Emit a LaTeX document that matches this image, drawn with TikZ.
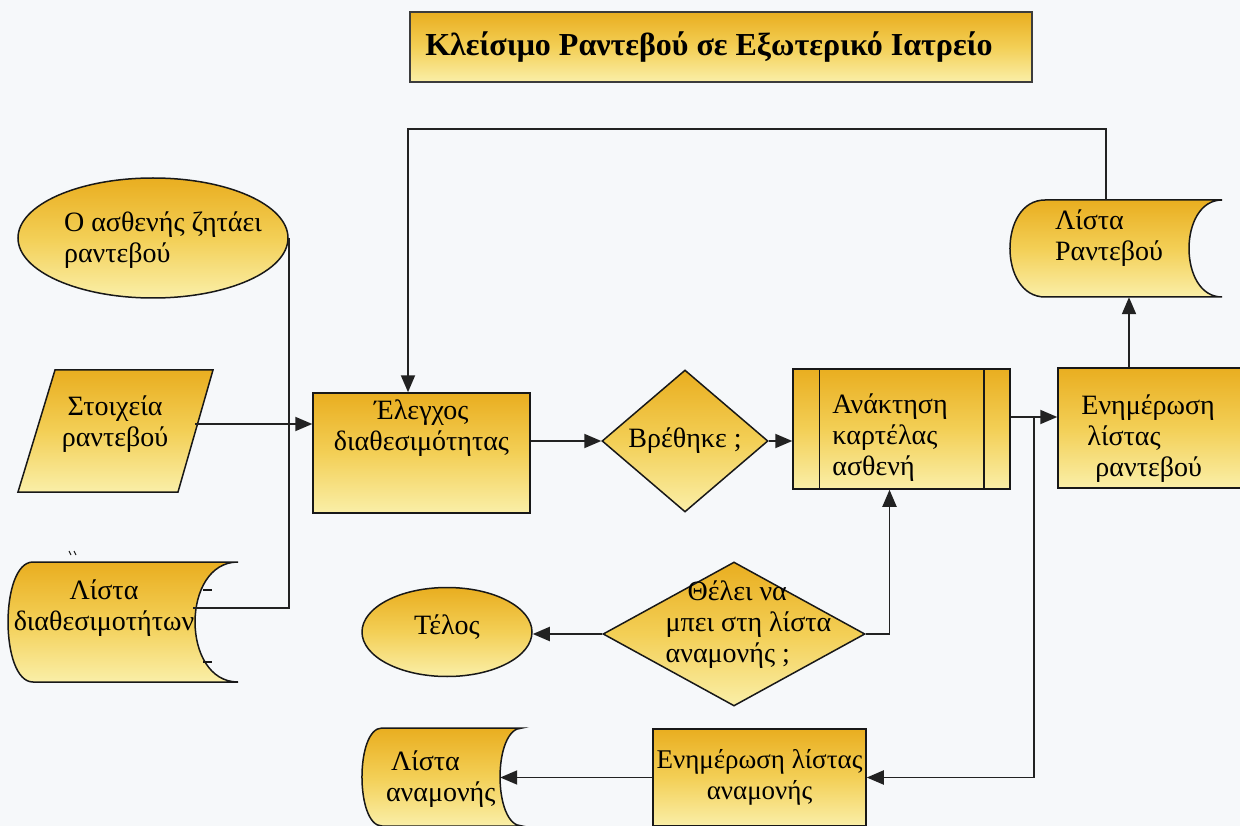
\documentclass[tikz,border=0pt]{standalone}
\usepackage{fontspec}
\setmainfont{Liberation Serif}
\usetikzlibrary{shapes.geometric,arrows.meta}

\definecolor{paper}{RGB}{246,248,250}
\definecolor{goldtop}{RGB}{233,174,32}
\definecolor{goldmid}{RGB}{243,207,86}
\definecolor{goldbot}{RGB}{250,239,168}
\definecolor{ink}{RGB}{24,24,24}
\definecolor{wire}{RGB}{34,34,34}
\definecolor{frame}{RGB}{60,60,60}

\tikzset{
  gold/.style={draw=ink, line width=1.5pt, top color=goldtop, bottom color=goldbot, middle color=goldmid},
  titlebox/.style={draw=frame, line width=2.2pt, top color=goldtop, bottom color=goldbot, middle color=goldmid},
  conn/.style={draw=wire, line width=1.9pt},
  arr/.style={conn, -{Triangle[length=17pt,width=14pt]}},
  ghost/.style={inner sep=0pt},
  txt/.style={inner sep=0pt, align=left},
}

\begin{document}
\begin{tikzpicture}[x=1pt,y=-1pt,font=\fontsize{28}{31}\selectfont]
\useasboundingbox (0,0) rectangle (1240,826);
\fill[paper] (0,0) rectangle (1240,826);
\clip (0,0) rectangle (1240,826);

% heading
\node[titlebox, minimum width=622, minimum height=70,
  label={[font=\fontsize{32}{36}\selectfont\bfseries, xshift=-12pt]center:Κλείσιμο Ραντεβού σε Εξωτερικό Ιατρείο}] (title) at (721,47) {};

% start event
\node[gold, ellipse, minimum width=270, minimum height=120, inner sep=0pt,
  label={[txt, xshift=10pt, yshift=-2pt]center:Ο ασθενής ζητάει\\ραντεβού}] (ask) at (153,238) {};

% appointment data (input)
\path[gold] (55,370) -- (213,370) -- (178,492) -- (18,492) -- cycle;
\node[ghost, align=center, minimum width=160] (data) at (115,424) {Στοιχεία\\ραντεβού};

% availability list (stored data)
\path[gold] (33,562) -- (238,562) .. controls (180.7,562) and (180.7,682) .. (238,682)
  -- (33,682) .. controls (-0.3,682) and (-0.3,562) .. cycle;
\node[ghost, minimum width=230, minimum height=120,
  label={[align=center, inner sep=0pt, xshift=-19pt, yshift=14pt]center:Λίστα\\διαθεσιμοτήτων}] (avail) at (123,622) {};
\draw[ink, line width=1.2pt] (203,590) -- (212,590) (203,662) -- (212,662);
\draw[ink, line width=1pt] (69,551) -- (71,555) (74,551) -- (76,555);

% availability check
\node[gold, minimum width=217, minimum height=120, inner sep=0pt,
  label={[anchor=north, align=center, inner sep=2pt, yshift=-5pt]north:Έλεγχος\\διαθεσιμότητας}] (check) at (421.5,453) {};

% found?
\node[gold, diamond, minimum width=166, minimum height=142, inner sep=0pt,
  label={center:Βρέθηκε ;}] (found) at (685,441) {};

% retrieve patient card (predefined process)
\node[gold, minimum width=217, minimum height=120, inner sep=0pt,
  label={[txt, anchor=west, xshift=40pt, yshift=-9pt]west:Ανάκτηση\\καρτέλας\\ασθενή}] (retr) at (901.5,429) {};
\draw[ink, line width=1.5pt] ([xshift=27pt]retr.north west) -- ([xshift=27pt]retr.south west)
  ([xshift=-27pt]retr.north east) -- ([xshift=-27pt]retr.south east);

% update appointment list
\node[gold, minimum width=192, minimum height=120, inner sep=0pt,
  label={[txt, anchor=west, xshift=24pt, yshift=-11pt]west:Ενημέρωση\\\hspace*{6pt}λίστας\\\hspace*{14pt}ραντεβού}] (upd) at (1154,428) {};

% appointment list (stored data)
\path[gold] (1045,200) -- (1222,200) .. controls (1178,200) and (1178,297) .. (1222,297)
  -- (1045,297) .. controls (998.3,297) and (998.3,200) .. cycle;
\node[ghost, minimum width=212, minimum height=97,
  label={[txt, anchor=west, xshift=45pt, yshift=10pt]west:Λίστα\\Ραντεβού}] (plist) at (1116,248.5) {};

% wait-list decision
\node[gold, diamond, minimum width=262, minimum height=144, inner sep=0pt,
  label={[txt, xshift=14.5pt, yshift=9pt]center:\hspace*{22pt}Θέλει να\\μπει στη λίστα\\αναμονής ;}] (wait) at (734,634) {};

% end event
\node[gold, ellipse, minimum width=170, minimum height=89, inner sep=0pt,
  label={[yshift=5pt]center:Τέλος}] (stop) at (447,632) {};

% waiting list (stored data)
\path[gold] (382,728) -- (522,728) .. controls (492.7,728) and (492.7,826) .. (522,826)
  -- (382,826) .. controls (355.3,826) and (355.3,728) .. cycle;
\node[ghost, minimum width=160, minimum height=98,
  label={[txt, anchor=west, xshift=24pt, yshift=-2pt]west:\hspace*{5pt}Λίστα\\αναμονής}] (wlist) at (442,777) {};

% update waiting list
\node[gold, minimum width=213, minimum height=97, inner sep=0pt, align=center,
  font=\fontsize{27}{31}\selectfont] (updw) at (759.5,777.5) {Ενημέρωση λίστας\\αναμονής};

% connectors
\coordinate (ad) at ([shift={(-45pt,14pt)}]avail.east);
\draw[conn] (ask.east) |- (ad);
\draw[arr] (data.east) -- (data.east -| check.west);
\draw[arr] ([xshift=-10pt]plist.north) -- ++(0,-71) -| ([xshift=-13.5pt]check.north);
\draw[arr] (found.west -| check.east) -- (found.west);
\draw[arr] (found.east) -- (found.east -| retr.west);
\coordinate (ro) at ([yshift=12pt]retr.east);
\draw[arr] (ro) -- (ro -| upd.west);
\coordinate (br) at ([xshift=23pt]ro);
\draw[arr] (br) |- (updw.east);
\coordinate (pb) at ([xshift=13pt]plist.south);
\draw[arr] (pb |- upd.north) -- (pb);
\coordinate (rb) at ([xshift=-12pt]retr.south);
\draw[arr] (wait.east) -| (rb);
\draw[arr] (wait.west) -- (wait.west -| stop.east);
\coordinate (wl) at ([xshift=-22pt]wlist.east);
\draw[arr] (updw.west) -- (updw.west -| wl);
\end{tikzpicture}
\end{document}
